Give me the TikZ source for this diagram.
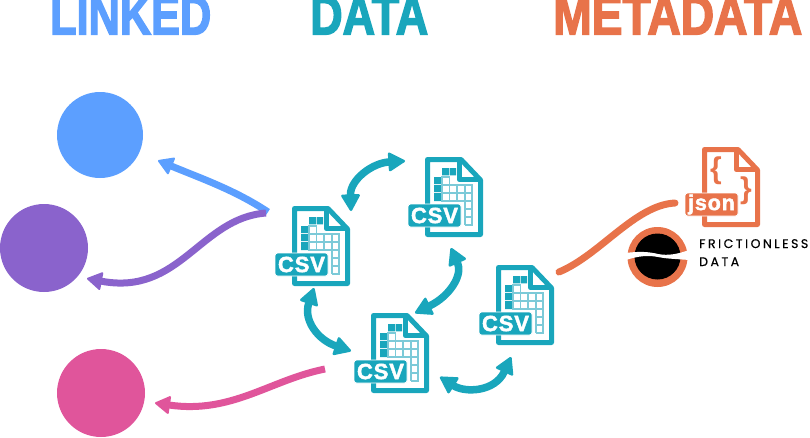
\documentclass[tikz,border=0pt]{standalone}
\usepackage{fontspec}
\usepackage{graphicx}
\setmainfont{Liberation Sans}
\newfontfamily\titlefont[BoldFeatures={FakeBold=3}]{Liberation Sans}
\newfontfamily\iconfont[LetterSpace=4,BoldFeatures={FakeBold=2,LetterSpace=4}]{Liberation Sans}
\newfontfamily\frfont[LetterSpace=20,FakeBold=0.4]{Poppins}
\usetikzlibrary{arrows.meta}
\definecolor{teal1}{HTML}{19A6BC}
\definecolor{teallt}{HTML}{7CCAD8}
\definecolor{blue1}{HTML}{5C9FFF}
\definecolor{purple1}{HTML}{8A63CC}
\definecolor{pink1}{HTML}{E0559B}
\definecolor{orange1}{HTML}{E8734A}
\tikzset{
  titletext/.style={inner sep=0pt,anchor=south west,font=\titlefont\bfseries},
  dot/.style={circle,minimum size=#1,inner sep=0pt,draw=none},
  flow/.style={line width=7pt,draw=#1,-{Triangle[length=16pt,width=19pt,round,line width=2pt]}},
  dflow/.style={line width=7.5pt,draw=teal1,{Triangle[length=18pt,width=20pt,round,line width=2.5pt]}-{Triangle[length=18pt,width=20pt,round,line width=2.5pt]}},
  filelabel/.style={fill=#1,draw=white,line width=.8pt,rounded corners=2.5pt,minimum width=53pt,minimum height=23pt,inner sep=0pt,text=white,font=\iconfont\bfseries},
  pics/filepage/.style={code={
    \draw[draw=#1,line width=5pt,line join=round]
      (2.5,2.5) -- (36,2.5) -- (55.5,23) -- (55.5,77.5) -- (2.5,77.5) -- cycle;
    \draw[draw=#1,line width=5.5pt,line join=round] (34.5,2.5) -- (34.5,22.5) -- (55.5,22.5);
  }},
  pics/csvicon/.style={code={
    \pic {filepage=teal1};
    \fill[teal1] (17,11) rectangle (24,18.3) (24.8,11) rectangle (31,18.3)
      (9,20) rectangle (16,27) (9,28) rectangle (16,35) (9,36) rectangle (16,44);
    \draw[teallt,line width=1.3pt] (17,20) rectangle (24.5,44) (17,28) -- (39.5,28) (17,36) -- (47,36) (17,44) -- (47,44)
      (32,28) -- (32,44) (39.5,36) -- (39.5,44)  (39.5,28) -- (47,28) -- (47,68) -- (39.5,68)
      (39.5,52) -- (47,52) (39.5,60) -- (47,60);
    \draw[teallt,line width=2pt] (39.5,28) -- (39.5,68);
    \node[filelabel=teal1] (-label) at (9.5,58.5) {\fontsize{22}{22}\selectfont CSV};
  }}
}
\begin{document}
\begin{tikzpicture}[x=1pt,y=-1pt]
\useasboundingbox (0,0) rectangle (810,437);
\clip (0,0) rectangle (810,437);
% titles
\node[titletext,text=blue1] (tlinked) at (50,34.5) {\resizebox{161pt}{38pt}{LINKED}};
\node[titletext,text=teal1] (tdata) at (310,34.5) {\resizebox{118pt}{38pt}{DATA}};
\node[titletext,text=orange1] (tmeta) at (553,34.5) {\resizebox{249pt}{38pt}{METADATA}};
% circles
\node[dot=86pt,fill=blue1] (cblue) at (100,135) {};
\node[dot=88pt,fill=purple1] (cpurple) at (44,248) {};
\node[dot=88pt,fill=pink1] (cpink) at (101,393) {};
% csv files
\pic (csvleft) at (292,206) {csvicon};
\pic (csvtop) at (425,157) {csvicon};
\pic (csvbottom) at (371,313) {csvicon};
\pic (csvright) at (496,265) {csvicon};
% json file
\pic (json) at (702,147) {filepage=orange1};
\node[filelabel=orange1] (jsonlabel) at (711.5,204.5) {\fontsize{21.5}{21}\selectfont\raisebox{1pt}{json}};
\node[inner sep=0pt,text=orange1,font=\bfseries\fontsize{30}{30}\selectfont] (bracel) at (716,171) {\{};
\node[inner sep=0pt,text=orange1,font=\bfseries\fontsize{30}{30}\selectfont] (bracer) at (746,191) {\}};
% logo
\node[dot=60pt,fill=orange1] (logoring) at (657.5,257) {};
\node[dot=46pt,fill=black] (logocore) at (657.5,256.5) {};
\fill[white] (626,253) .. controls (640,251) and (650,252) .. (658,254)
  .. controls (668,256) and (678,254) .. (689,250) -- (689,260)
  .. controls (678,259) and (668,259) .. (658,257)
  .. controls (648,255) and (638,256) .. (626,260) -- cycle;
\node[inner sep=0pt,anchor=base west,font=\frfont\fontsize{12.5}{18}\selectfont] (frl1) at (699,248) {FRICTIONLESS};
\node[inner sep=0pt,anchor=base west,font=\frfont\fontsize{12.5}{18}\selectfont] (frl2) at (699,266) {DATA};
% connector ends
\coordinate (bs) at (268,212);
\coordinate (pus) at (266,213);
\coordinate (bt) at (158,160.5);
\coordinate (put) at (87,278.5);
\coordinate (pis) at (325,369);
\coordinate (pit) at (155,403);
\coordinate (os) at (559,272);
\coordinate (oe) at (675,203);
\coordinate (a1) at (351,211);
\coordinate (a2) at (405,161);
\coordinate (b1) at (451,248);
\coordinate (b2) at (415,313);
\coordinate (c1) at (314,288);
\coordinate (c2) at (351,351);
\coordinate (d1) at (440,377);
\coordinate (d2) at (511,357);
% connectors
\draw[flow=blue1] (bs) .. controls (235,190) and (200,178) .. (bt);
\draw[flow=purple1] (pus) .. controls (200,218) and (180,296) .. (put);
\draw[flow=pink1] (pis) .. controls (270,380) and (232,414) .. (pit);
\draw[orange1,line width=7pt,line cap=round] (os) .. controls (600,255) and (635,205) .. (oe);
\draw[dflow] (a1) .. controls (350,180) and (372,163) .. (a2);
\draw[dflow] (b1) .. controls (463,275) and (450,296) .. (b2);
\draw[dflow] (c1) .. controls (303,320) and (318,340) .. (c2);
\draw[dflow] (d1) .. controls (465,393) and (495,392) .. (d2);
\end{tikzpicture}
\end{document}
